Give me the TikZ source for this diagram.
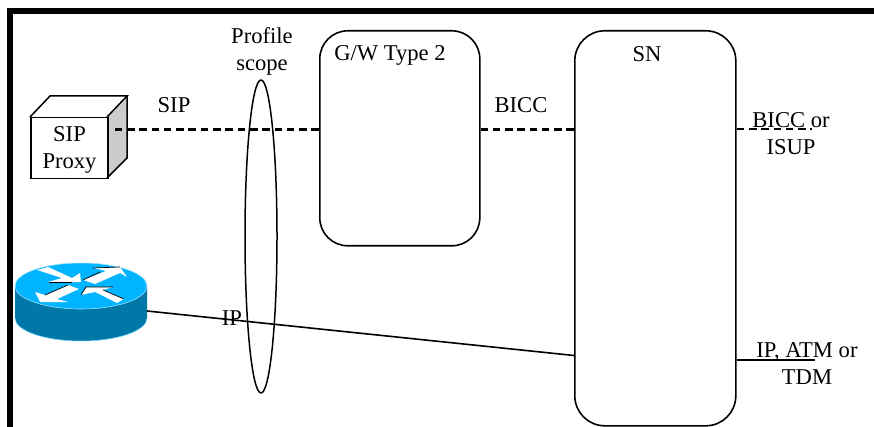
\documentclass[tikz,border=0pt]{standalone}
\usepackage{fontspec}
\setmainfont{Liberation Serif}
\usetikzlibrary{shapes.geometric}
\definecolor{rtop}{HTML}{00B4FF}
\definecolor{rside}{HTML}{0077A6}
\tikzset{
  x=1pt,y=-1pt,
  lbl/.style={inner sep=0pt,align=center,font=\fontsize{22.6}{27}\selectfont,text=black},
  rbox/.style={draw=black,line width=1.6pt,fill=white,rounded corners=28pt,minimum width=0pt},
  sig/.style={draw=black,line width=2.3pt,dash pattern=on 7.6pt off 4.7pt},
  bearer/.style={draw=black,line width=1.6pt},
  cubeedge/.style={draw=black,line width=1.5pt,line join=miter},
  rarrow/.style={fill=white,draw=none},
  rshadow/.style={draw=black,line width=.7pt}
}
\begin{document}
\begin{tikzpicture}
\useasboundingbox (0,0) rectangle (874,427);
\fill[white] (0,0) rectangle (874,427);
% frame
\fill[black] (7,8) rectangle (874,14);
\fill[black] (7,8) rectangle (13,427);
% boxes
\node[rbox,minimum width=160pt,minimum height=215pt,anchor=north west] (gw) at (319,30) {};
\node[rbox,minimum width=161pt,minimum height=395pt,anchor=north west,rounded corners=30pt] (sn) at (574,30) {};
% cube
\fill[black!20] (107,117) -- (127,96) -- (127,158) -- (107,178) -- cycle;
\draw[cubeedge] (30,117) -- (50,96) -- (127,96) -- (107,117);
\draw[cubeedge] (127,96) -- (127,158) -- (107,178);
\node[draw=black,line width=1.5pt,minimum width=77pt,minimum height=61pt,inner sep=0pt,anchor=north west] (proxy) at (30,117) {};
\node[lbl] (proxytext) at (69.5,150) {SIP\\Proxy};
% router
\fill[rside] (15,286) -- (15,318) arc[start angle=180,end angle=360,x radius=66,y radius=-23] -- (147,286) -- cycle;
\draw[rtop!60,line width=.5pt] (15,318) arc[start angle=180,end angle=360,x radius=66,y radius=-23];
\node[ellipse,fill=rtop,draw=rtop!40,line width=.6pt,minimum width=132pt,minimum height=46pt,inner sep=0pt] (router) at (81,286) {};
% router arrows
\fill[rarrow] (37,270) -- (48,267) -- (72,278) -- (80,273) -- (81,282) -- (48,282) -- (62,278) -- cycle;
\fill[rarrow] (83,280) -- (106,271) -- (93,268) -- (120,267) -- (127,277) -- (120,273) -- (95,284) -- cycle;
\fill[rarrow] (35,292) -- (45,295) -- (68,285) -- (79,289) -- (57,299) -- (68,302) -- (40,302) -- cycle;
\fill[rarrow] (81,295) -- (86,287) -- (113,287) -- (103,290) -- (124,299) -- (117,303) -- (95,292) -- cycle;
\draw[rshadow] (93,268) -- (120,267);
\draw[rshadow] (83,280) -- (100,272);
\draw[rshadow] (49,282) -- (72,282);
\draw[rshadow] (45,295) -- (68,285);
\draw[rshadow] (81,295) -- (86,287) -- (113,287);
\draw[rshadow] (103,290) -- (124,299);
% connectors
\coordinate (bo) at (812,129);
\coordinate (ia) at (815,360);
\coordinate (pe) at (110,129.5);
\draw[sig] (gw.west |- pe) -- (pe);
\draw[sig] (sn.west |- pe) -- (gw.east |- pe);
\draw[sig,line width=1.7pt] (sn.east |- bo) -- (bo);
\draw[bearer] (147,311) -- (sn.west |- 0,355.5);
\draw[bearer] (sn.east |- ia) -- (ia);
% scope ellipse
\node[ellipse,draw=black,line width=1.5pt,minimum width=32pt,minimum height=313pt,inner sep=0pt] (scope) at (261,236.5) {};
% labels
\node[lbl] (l1) at (262,51.5) {Profile\\scope};
\node[lbl] (l2) at (390,55) {G/W Type 2};
\node[lbl] (l3) at (647,54.5) {SN};
\node[lbl] (l4) at (174,105) {SIP};
\node[lbl] (l5) at (521,105) {BICC};
\node[lbl] (l6) at (232,318) {IP};
\node[lbl] (l7) at (791,134) {BICC or\\ISUP};
\node[lbl] (l8) at (807,364) {IP, ATM or\\TDM};
\end{tikzpicture}
\end{document}
